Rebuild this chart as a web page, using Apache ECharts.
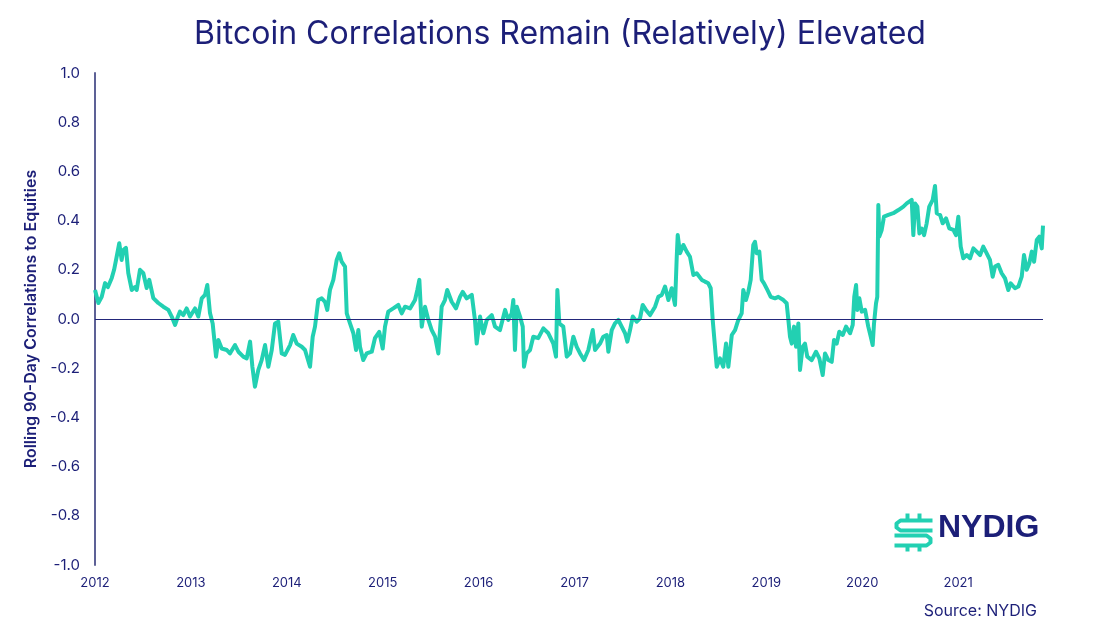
<!DOCTYPE html>
<html>
<head>
<meta charset="utf-8">
<script src="https://cdn.jsdelivr.net/npm/echarts@6/dist/echarts.min.js"></script>
<style>
html,body{margin:0;padding:0;background:#fff;}
#chart{width:1120px;height:635px;}
</style>
</head>
<body>
<div id="chart"></div>
<script>
// Dates as fractional years
const dates = [
2012.000,2012.035,2012.070,2012.105,2012.135,2012.175,2012.199,2012.226,2012.253,2012.278,
2012.295,2012.323,2012.347,2012.383,2012.417,2012.435,2012.469,2012.504,2012.539,2012.566,
2012.608,2012.660,2012.712,2012.765,2012.800,2012.835,2012.859,2012.886,2012.921,2012.956,
2012.991,2013.043,2013.077,2013.113,2013.147,2013.171,2013.199,2013.227,2013.262,2013.286,
2013.321,2013.374,2013.407,2013.460,2013.495,2013.546,2013.582,2013.617,2013.641,2013.668,
2013.703,2013.738,2013.773,2013.807,2013.843,2013.877,2013.911,2013.947,2013.981,2014.034,
2014.067,2014.103,2014.156,2014.190,2014.242,2014.270,2014.294,2014.328,2014.364,2014.398,
2014.422,2014.450,2014.485,2014.520,2014.547,2014.572,2014.607,2014.625,2014.659,2014.694,
2014.722,2014.746,2014.763,2014.797,2014.833,2014.886,2014.919,2014.964,2015.000,2015.024,
2015.058,2015.110,2015.163,2015.198,2015.233,2015.285,2015.337,2015.361,2015.382,2015.407,
2015.441,2015.476,2015.511,2015.546,2015.580,2015.615,2015.649,2015.673,2015.719,2015.764,
2015.806,2015.834,2015.876,2015.929,2015.962,2015.980,2016.015,2016.049,2016.085,2016.137,
2016.171,2016.223,2016.276,2016.309,2016.345,2016.362,2016.379,2016.398,2016.432,2016.460,
2016.473,2016.501,2016.536,2016.570,2016.622,2016.675,2016.727,2016.779,2016.807,2016.821,
2016.842,2016.883,2016.919,2016.953,2016.988,2017.023,2017.058,2017.099,2017.144,2017.190,
2017.214,2017.266,2017.300,2017.336,2017.353,2017.388,2017.422,2017.457,2017.492,2017.527,
2017.551,2017.579,2017.607,2017.649,2017.683,2017.711,2017.745,2017.788,2017.840,2017.874,
2017.910,2017.944,2017.979,2018.013,2018.048,2018.066,2018.076,2018.100,2018.135,2018.170,
2018.204,2018.239,2018.274,2018.327,2018.360,2018.395,2018.420,2018.441,2018.465,2018.483,
2018.517,2018.551,2018.580,2018.604,2018.640,2018.674,2018.708,2018.743,2018.760,2018.788,
2018.812,2018.837,2018.864,2018.882,2018.900,2018.927,2018.952,2018.976,2019.011,2019.046,
2019.090,2019.125,2019.178,2019.212,2019.230,2019.247,2019.265,2019.289,2019.310,2019.334,
2019.351,2019.379,2019.403,2019.427,2019.473,2019.518,2019.553,2019.588,2019.612,2019.647,
2019.682,2019.706,2019.734,2019.761,2019.797,2019.831,2019.873,2019.901,2019.917,2019.936,
2019.949,2019.970,2019.995,2020.030,2020.063,2020.089,2020.109,2020.123,2020.144,2020.157,
2020.168,2020.178,2020.203,2020.227,2020.272,2020.324,2020.377,2020.429,2020.464,2020.516,
2020.533,2020.551,2020.575,2020.596,2020.621,2020.645,2020.672,2020.699,2020.735,2020.759,
2020.777,2020.812,2020.839,2020.874,2020.908,2020.950,2020.978,2021.002,2021.027,2021.054,
2021.090,2021.124,2021.159,2021.194,2021.229,2021.262,2021.298,2021.332,2021.360,2021.385,
2021.419,2021.454,2021.489,2021.523,2021.548,2021.593,2021.628,2021.663,2021.687,2021.715,
2021.742,2021.768,2021.792,2021.820,2021.847,2021.872,2021.885
];
const correlations = [
0.118,0.065,0.09,0.146,0.13,0.167,0.2,0.253,0.308,0.24,
0.28,0.289,0.187,0.118,0.13,0.118,0.2,0.186,0.126,0.159,
0.085,0.065,0.05,0.037,0.01,-0.024,0.004,0.03,0.016,0.043,
0.01,0.043,0.01,0.084,0.098,0.138,0.024,-0.018,-0.153,-0.085,
-0.12,-0.126,-0.14,-0.106,-0.133,-0.153,-0.16,-0.092,-0.194,-0.275,
-0.207,-0.167,-0.106,-0.194,-0.126,-0.018,-0.011,-0.14,-0.146,-0.106,
-0.065,-0.1,-0.113,-0.126,-0.194,-0.072,-0.031,0.077,0.084,0.07,
0.037,0.118,0.159,0.24,0.267,0.233,0.213,0.023,-0.018,-0.058,
-0.126,-0.045,-0.113,-0.167,-0.14,-0.133,-0.078,-0.052,-0.12,-0.031,
0.03,0.043,0.057,0.023,0.05,0.043,0.077,0.118,0.159,-0.031,
0.05,-0.004,-0.045,-0.072,-0.14,0.05,0.077,0.118,0.07,0.043,
0.09,0.11,0.084,0.098,-0.004,-0.1,0.01,-0.058,-0.004,0.016,
-0.031,-0.045,0.037,-0.004,0.023,0.077,-0.126,0.05,0.01,-0.031,
-0.194,-0.14,-0.126,-0.072,-0.078,-0.038,-0.058,-0.1,-0.153,0.118,
-0.018,-0.031,-0.153,-0.14,-0.072,-0.113,-0.14,-0.167,-0.126,-0.045,
-0.126,-0.1,-0.072,-0.065,-0.133,-0.045,-0.018,-0.004,-0.031,-0.058,
-0.092,-0.045,0.01,-0.011,0.003,0.057,0.037,0.016,0.05,0.09,
0.098,0.132,0.077,0.125,0.057,0.253,0.341,0.267,0.301,0.274,
0.253,0.179,0.186,0.159,0.152,0.145,0.125,-0.004,-0.113,-0.194,
-0.16,-0.194,-0.1,-0.194,-0.065,-0.045,-0.004,0.023,0.118,0.077,
0.11,0.159,0.301,0.314,0.267,0.274,0.159,0.145,0.118,0.09,
0.084,0.09,0.077,0.064,-0.004,-0.072,-0.1,-0.031,-0.113,-0.018,
-0.207,-0.113,-0.1,-0.153,-0.167,-0.133,-0.16,-0.228,-0.14,-0.167,
-0.174,-0.085,-0.1,-0.052,-0.065,-0.031,-0.058,-0.024,0.09,0.138,
0.037,0.084,0.03,0.037,-0.031,-0.072,-0.106,-0.018,0.064,0.09,
0.463,0.335,0.362,0.416,0.423,0.43,0.443,0.457,0.47,0.484,
0.341,0.47,0.457,0.348,0.368,0.341,0.389,0.457,0.484,0.541,
0.43,0.423,0.389,0.409,0.368,0.362,0.341,0.416,0.294,0.247,
0.26,0.247,0.287,0.274,0.26,0.294,0.267,0.24,0.172,0.213,
0.22,0.186,0.165,0.118,0.145,0.125,0.132,0.172,0.26,0.2,
0.226,0.274,0.233,0.321,0.335,0.287,0.38
];
const yearTicks = [2012,2013,2014,2015,2016,2017,2018,2019,2020,2021];
const yTicks = [-1.0,-0.8,-0.6,-0.4,-0.2,0.0,0.2,0.4,0.6,0.8,1.0];

const navy = '#1c1f78';
const teal = '#22d0b2';
const font = 'Inter';
const chart = echarts.init(document.getElementById('chart'), null, {renderer:'canvas'});
const seriesData = dates.map((d,i)=>[d, correlations[i]]);

chart.setOption({
  backgroundColor:'#ffffff',
  animation:false,
  title:{
    text:'Bitcoin Correlations Remain (Relatively) Elevated',
    left:'center', top:13,
    textStyle:{fontFamily:font, fontSize:32, fontWeight:'normal', color:navy}
  },
  grid:{left:95, right:77, top:73, bottom:70},
  xAxis:{
    type:'value', min:yearTicks[0], max:2021.885,
    axisLine:{show:false}, axisTick:{show:false}, splitLine:{show:false},
    axisLabel:{
      customValues:yearTicks,
      margin:12,
      color:navy, fontFamily:font, fontSize:13,
      formatter:function(v){return String(Math.round(v));}
    }
  },
  yAxis:{
    type:'value', min:yTicks[0], max:yTicks[yTicks.length-1], interval:0.2,
    name:'Rolling 90-Day Correlations to Equities',
    nameLocation:'middle', nameRotate:90, nameGap:51,
    nameTextStyle:{color:navy, fontFamily:font, fontSize:16, fontWeight:600},
    axisLine:{show:true, lineStyle:{color:'#5d6196', width:2}},
    axisTick:{show:false}, splitLine:{show:false},
    axisLabel:{color:navy, fontFamily:font, fontSize:15, margin:15,
      formatter:function(v){return v.toFixed(1);}}
  },
  series:[{
    type:'line', data:seriesData, showSymbol:false, symbol:'none',
    lineStyle:{color:teal, width:4, join:'round'},
    markLine:{
      silent:true, symbol:'none', label:{show:false},
      lineStyle:{color:'#23277a', width:1.2, type:'solid'},
      data:[{yAxis:0}]
    }
  }],
  graphic:[
    {type:'text', right:83, top:603,
     style:{text:'Source: NYDIG', fill:navy, font:'16px Inter'}},
    {type:'text', left:938, top:512,
     style:{text:'NYDIG', fill:navy, font:'bold 32px "Liberation Sans"'}},
    {type:'group', left:892, top:511, children:[
      {type:'polyline', shape:{points:[[13,0],[13,7]]}, style:{stroke:teal, lineWidth:4, fill:null}},
      {type:'polyline', shape:{points:[[25,0],[25,7]]}, style:{stroke:teal, lineWidth:4, fill:null}},
      {type:'polyline', shape:{points:[[38,7],[6,7],[2,10],[2,14],[6,17],[38,17]]}, style:{stroke:teal, lineWidth:4, fill:null, lineJoin:'round'}},
      {type:'polyline', shape:{points:[[0,22],[32,22],[36,25],[36,29],[32,32],[0,32]]}, style:{stroke:teal, lineWidth:4, fill:null, lineJoin:'round'}},
      {type:'polyline', shape:{points:[[13,32],[13,38]]}, style:{stroke:teal, lineWidth:4, fill:null}},
      {type:'polyline', shape:{points:[[25,32],[25,38]]}, style:{stroke:teal, lineWidth:4, fill:null}}
    ]}
  ]
});
</script>
</body>
</html>
